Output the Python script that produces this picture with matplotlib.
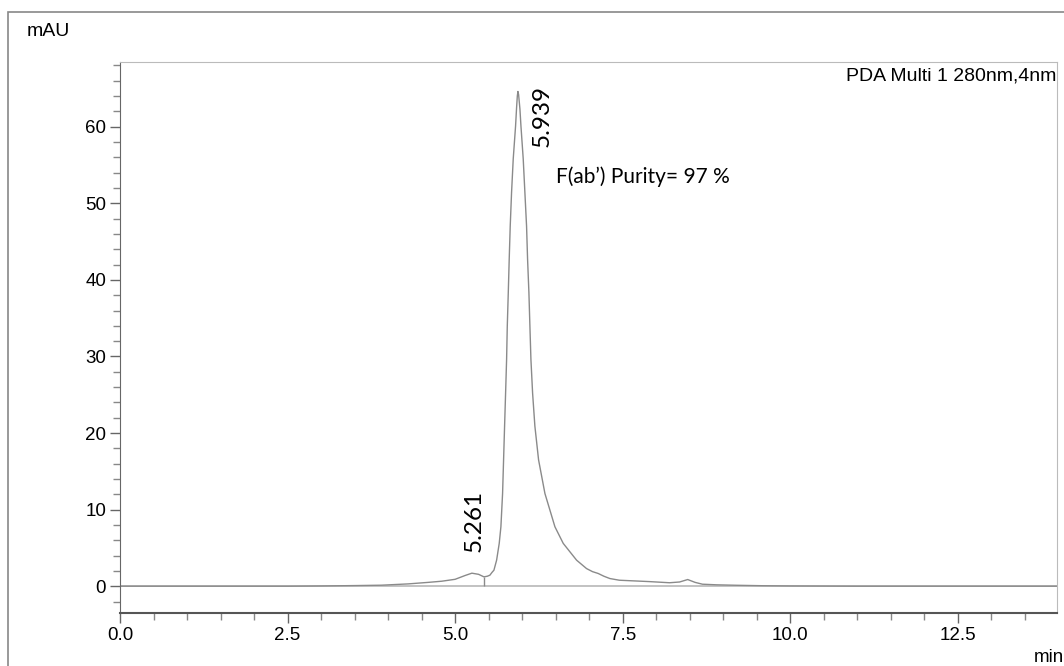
import numpy as np
import matplotlib
matplotlib.use("Agg")
import matplotlib.pyplot as plt
from matplotlib.ticker import MultipleLocator, FormatStrFormatter
from matplotlib.patches import Rectangle

# chromatogram trace (min, mAU)
time_min = [0.0, 0.5, 1.0, 1.5, 2.0, 2.5, 3.0, 3.5, 3.9, 4.3, 4.6, 4.8,
            5.0, 5.15, 5.25, 5.35, 5.43, 5.48, 5.519, 5.55, 5.579, 5.619,
            5.658, 5.683, 5.708, 5.723, 5.738, 5.753, 5.768, 5.778, 5.793,
            5.807, 5.822, 5.842, 5.867, 5.902, 5.917, 5.928, 5.937, 5.947,
            5.967, 5.982,
            6.016, 6.041, 6.066, 6.081, 6.101, 6.116, 6.131, 6.156, 6.190,
            6.245, 6.340, 6.489, 6.613, 6.812, 6.961, 7.05, 7.135, 7.22,
            7.309, 7.45, 7.6, 7.9, 8.2, 8.35, 8.47, 8.58, 8.69, 8.9, 9.2,
            9.6, 10.0, 11.0, 12.0, 13.0, 14.0]
signal = [0.0, 0.0, 0.0, 0.0, 0.0, 0.0, 0.03, 0.08, 0.13, 0.3, 0.5, 0.65,
          0.9, 1.4, 1.7, 1.55, 1.22, 1.3, 1.44, 1.8, 2.09, 3.40,
          5.59, 7.76, 12.1, 16.5, 20.9, 25.2, 29.6, 33.9, 38.3,
          42.7, 47.0, 51.4, 55.8, 60.1, 62.5, 64.0, 64.6, 64.2,
          62.3, 60.1,
          55.8, 51.4, 47.0, 42.7, 38.3, 33.9, 29.6, 25.2, 20.9,
          16.5, 12.1, 7.76, 5.59, 3.40, 2.3, 1.9, 1.66, 1.3,
          1.0, 0.78, 0.72, 0.6, 0.45, 0.55, 0.87, 0.5, 0.26, 0.18, 0.12,
          0.06, 0.03, 0.0, 0.0, 0.0, 0.0]

peak_labels = ["5.261", "5.939"]
label_x = [5.29, 6.30]
label_y = [4.45, 65.4]
split_time = 5.43
split_height = 1.22

fig = plt.figure(figsize=(10.64, 6.66), dpi=100)
ax = fig.add_axes([120 / 1064, 1 - 613 / 666, 937 / 1064, 551 / 666])

grey = "#8a8a8a"
ax.axhline(0, color="#b8b8b8", lw=1.2, zorder=1)
ax.plot(time_min, signal, color=grey, lw=1.0, zorder=2)
ax.vlines(split_time, 0, split_height, color=grey, lw=1.0)

ax.text(label_x[0], label_y[0], peak_labels[0], rotation=90, ha="center",
        va="bottom", fontsize=17.5, family="Lato")
ax.text(label_x[1], label_y[1], peak_labels[1], rotation=90, ha="center",
        va="top", fontsize=17.5, family="Lato")

ax.text(6.50, 53.5, "F(ab\u2019) Purity= 97 %", fontsize=15, family="Lato",
        ha="left", va="center")

ax.text(0.999, 0.99, "PDA Multi 1 280nm,4nm", transform=ax.transAxes,
        ha="right", va="top", fontsize=14, family="Liberation Sans")

ax.set_xlim(0, 13.98)
ax.set_ylim(-3.5, 68.45)
ax.xaxis.set_major_locator(MultipleLocator(2.5))
ax.xaxis.set_minor_locator(MultipleLocator(0.5))
ax.yaxis.set_major_locator(MultipleLocator(10))
ax.yaxis.set_minor_locator(MultipleLocator(2))
ax.xaxis.set_major_formatter(FormatStrFormatter("%.1f"))

ax.tick_params(which="major", length=7, width=1, color="#666666",
               labelsize=13.5, pad=3)
ax.tick_params(which="minor", length=5, width=1, color="#888888")
for lab in ax.get_xticklabels() + ax.get_yticklabels():
    lab.set_family("Liberation Sans")

ax.spines["left"].set_color("#666666")
ax.spines["bottom"].set_color("#555555")
ax.spines["bottom"].set_linewidth(1.5)
ax.spines["top"].set_color("#bbbbbb")
ax.spines["right"].set_color("#bbbbbb")

fig.text(27 / 1064, 1 - 31 / 666, "mAU", fontsize=14, family="Liberation Sans",
         va="center", ha="left")
fig.text(1064 / 1064, 1 - 658 / 666, "min", fontsize=13.5,
         family="Liberation Sans", va="center", ha="right")

# outer frame, running off the right and bottom edges
fig.patches.append(Rectangle((8 / 1064, -0.1), 1.2, 1.1 - 12 / 666,
                             transform=fig.transFigure, fill=False,
                             edgecolor="#888888", lw=1.2))

fig.savefig("out.png", dpi=100)
